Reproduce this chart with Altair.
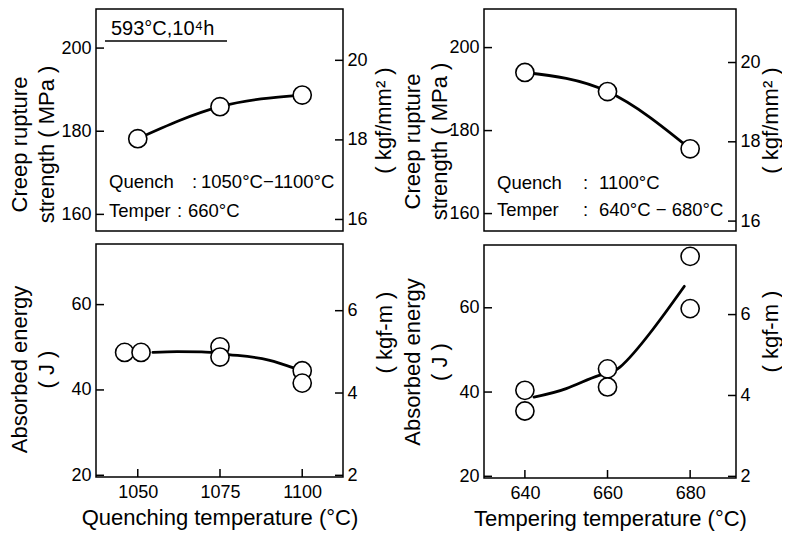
import altair as alt
import pandas as pd

FONT = "Liberation Sans"

# ---------------- data ----------------
# Left column: effect of quenching temperature
quench_creep_x = [1050, 1075, 1100]
quench_creep_y = [178.2, 185.9, 188.7]          # MPa
quench_imp_x = [1046, 1051, 1075, 1075, 1100, 1100]
quench_imp_y = [48.8, 48.8, 50.1, 47.7, 44.5, 41.6]   # J
quench_curve_x = [1054.6, 1062, 1069.4, 1077.6, 1089.8, 1098]
quench_curve_y = [48.8, 49.0, 48.9, 48.3, 47.0, 45.0]

# Right column: effect of tempering temperature
temper_creep_x = [640, 660, 680]
temper_creep_y = [194.0, 189.4, 175.6]          # MPa
temper_imp_x = [640, 640, 660, 660, 680, 680]
temper_imp_y = [40.4, 35.5, 45.5, 41.2, 72.2, 59.8]   # J
temper_curve_x = [642.2, 650, 657.8, 663, 671, 678.6]
temper_curve_y = [38.8, 40.8, 43.9, 45.9, 54.9, 65.1]

# tick values
quench_ticks = [1050, 1075, 1100]
temper_ticks = [640, 660, 680]
creep_ticks = [160, 180, 200]
creep_kgf_ticks = [16, 18, 20]
energy_ticks = [20, 40, 60]
energy_kgf_ticks = [2, 4, 6]

ONE = pd.DataFrame({"a": [0]})
TICK = 8


def panel(W, H, xdom, ydom, y2dom, px, py, cx, cy, interp,
          yticks, y2ticks, ytitle, y2title, ytp, y2tp,
          ytitleY=None, y2titleY=None, xticks=None, xtitle=None,
          texts=(), rules=()):
    xs = alt.Scale(domain=xdom, nice=False, zero=False)
    ys = alt.Scale(domain=ydom, nice=False, zero=False)
    ykw = dict(values=yticks, title=ytitle, orient="left", labelPadding=5,
               titlePadding=ytp, titleLineHeight=27)
    if ytitleY is not None:
        ykw["titleY"] = ytitleY
    yax = alt.Axis(**ykw)
    if xticks:
        xax = alt.Axis(values=xticks, title=xtitle, orient="bottom",
                       format="d", labelPadding=6.5, titlePadding=6)
    else:
        xax = None

    def X(f):
        return alt.X(f, scale=xs, axis=xax, title=xtitle if xticks else None)

    def Y(f):
        return alt.Y(f, scale=ys, axis=yax, title=ytitle)

    curve = alt.Chart(pd.DataFrame({"x": cx, "y": cy})).mark_line(
        color="black", strokeWidth=2.8, interpolate=interp, strokeCap="round"
    ).encode(x=X("x:Q"), y=Y("y:Q"))
    pts = alt.Chart(pd.DataFrame({"x": px, "y": py})).mark_point(
        shape="circle", size=330, fill="white", fillOpacity=1, stroke="black",
        strokeWidth=1.6, opacity=1
    ).encode(x=X("x:Q"), y=Y("y:Q"))
    lt = alt.Chart(pd.DataFrame({"y": yticks})).mark_rule(color="black", strokeWidth=1.5).encode(
        y=Y("y:Q"), x=alt.value(0), x2=alt.value(TICK))
    layers = [curve, pts, lt]
    if xticks:
        xt = alt.Chart(pd.DataFrame({"x": xticks})).mark_rule(color="black", strokeWidth=1.5).encode(
            x=X("x:Q"), y=alt.value(H - TICK), y2=alt.value(H))
        layers.append(xt)
    for (t, tx, ty, fs) in texts:
        layers.append(alt.Chart(ONE).mark_text(
            text=t, align="left", baseline="alphabetic", font=FONT, fontSize=fs, color="black"
        ).encode(x=alt.value(tx), y=alt.value(ty)))
    for (x1, x2, yy) in rules:
        layers.append(alt.Chart(ONE).mark_rule(color="black", strokeWidth=1.3).encode(
            x=alt.value(x1), x2=alt.value(x2), y=alt.value(yy)))
    inner = alt.layer(*layers)
    y2s = alt.Scale(domain=y2dom, nice=False, zero=False)
    y2kw = dict(values=y2ticks, title=y2title, orient="right", labelPadding=4,
                titlePadding=y2tp, titleAngle=270, titleBaseline="top")
    if y2titleY is not None:
        y2kw["titleY"] = y2titleY
    rt = alt.Chart(pd.DataFrame({"w": y2ticks})).mark_rule(color="black", strokeWidth=1.5).encode(
        y=alt.Y("w:Q", scale=y2s, axis=alt.Axis(**y2kw)),
        x=alt.value(W - TICK), x2=alt.value(W))
    return alt.layer(inner, rt).resolve_scale(y="independent").properties(width=W, height=H)


LW, RW = 247, 252
TH, BH = 222, 233

left_top = panel(
    LW, TH, [1037.3, 1112.4], [156.0, 209.4], [15.71, 21.29],
    quench_creep_x, quench_creep_y, quench_creep_x, quench_creep_y, "monotone",
    creep_ticks, creep_kgf_ticks, ["Creep rupture", "strength ( MPa )"], "( kgf/mm² )",
    2, 6, ytitleY=135,
    texts=[("593°C,10⁴h", 15, 26, 20),
           ("Quench", 13, 179, 18.5), (":", 96, 179, 18.5), ("1050°C−1100°C", 105, 179, 18.5),
           ("Temper", 13, 208, 18.5), (":", 81, 208, 18.5), ("660°C", 92, 208, 18.5)],
    rules=[(9, 131, 32)])

left_bot = panel(
    LW, BH, [1037.3, 1112.4], [19.6, 74.2], [1.96, 7.62],
    quench_imp_x, quench_imp_y, quench_curve_x, quench_curve_y, "monotone",
    energy_ticks, energy_kgf_ticks, ["Absorbed energy", "( J )"], "( kgf-m )",
    12, 17, ytitleY=125, y2titleY=88,
    xticks=quench_ticks, xtitle="Quenching temperature (°C)")

right_top = panel(
    RW, TH, [630.1, 691.1], [155.8, 209.3], [15.75, 21.35],
    temper_creep_x, temper_creep_y, temper_creep_x, temper_creep_y, "natural",
    creep_ticks, creep_kgf_ticks, ["Creep rupture", "strength ( MPa )"], "( kgf/mm² )",
    -3, 0, ytitleY=132,
    texts=[("Quench", 13, 180, 18.5), (":", 99, 180, 18.5), ("1100°C", 115, 180, 18.5),
           ("Temper", 13, 207, 18.5), (":", 99, 207, 18.5), ("640°C − 680°C", 115, 207, 18.5)])

right_bot = panel(
    RW, BH, [630.1, 691.1], [19.6, 74.9], [1.96, 7.72],
    temper_imp_x, temper_imp_y, temper_curve_x, temper_curve_y, "natural",
    energy_ticks, energy_kgf_ticks, ["Absorbed energy", "( J )"], "( kgf-m )",
    7, 10, y2titleY=86,
    xticks=temper_ticks, xtitle="Tempering temperature (°C)")

left_col = alt.vconcat(left_top, left_bot, spacing=11)
right_col = alt.vconcat(right_top, right_bot, spacing=11)

chart = alt.hconcat(left_col, right_col, spacing=5, padding=0).configure(
    font=FONT, background="white"
).configure_view(
    stroke="black", strokeWidth=1.5
).configure_axis(
    grid=False, domain=False, ticks=False,
    labelFont=FONT, titleFont=FONT, labelFontSize=18, titleFontSize=22,
    titleFontWeight="normal", labelColor="black", titleColor="black"
)

chart.save("out.html", embed_options={"renderer": "svg", "actions": False})
